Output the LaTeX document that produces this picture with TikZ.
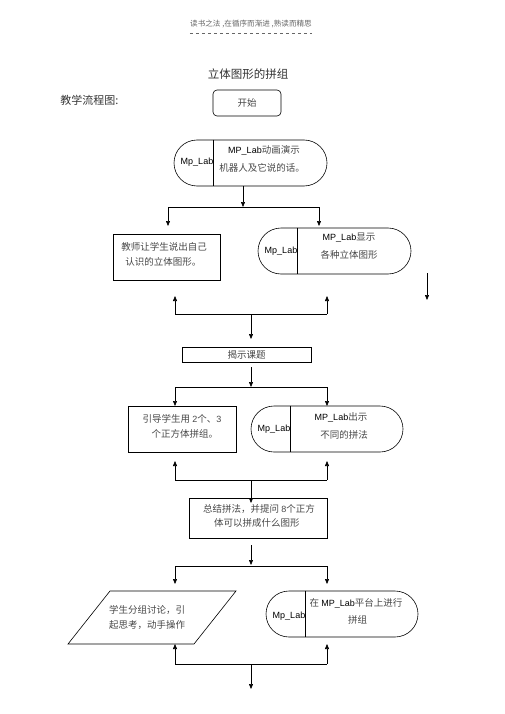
\documentclass[tikz,border=0pt]{standalone}
\usepackage{fontspec}
\setmainfont{Liberation Serif}
\newfontfamily\cjk{Noto Sans CJK SC}
\newfontfamily\arial{Liberation Sans}
\usetikzlibrary{arrows.meta,shapes.misc}
\begin{document}
\begin{tikzpicture}[x=1pt,y=-1pt,line width=0.6pt,
  arr/.style={-{Triangle[length=5pt,width=4pt]}},
  plainbox/.style={draw,rectangle,inner sep=0pt},
  termbox/.style={draw,rounded rectangle,inner sep=0pt,minimum height=46pt},
  zh/.style={text=black!72,font=\cjk\fontsize{9.5}{11}\selectfont,inner sep=0pt},
  mp/.style={text=black,font=\arial\fontsize{9}{11}\selectfont,inner sep=0pt},
  mix/.style={inner sep=0pt,font=\fontsize{9.5}{11}\selectfont}]
\useasboundingbox (0,0) rectangle (505,714);
\newcommand{\zhx}[1]{{\cjk\color{black!72}#1}}
\newcommand{\mpx}[1]{{\arial\fontsize{9}{11}\selectfont #1}}

% header
\node[inner sep=0pt,text=black!60,font=\cjk\fontsize{7.6}{9}\selectfont] (hdr) at (251,24) {读书之法 ,在循序而渐进 ,熟读而精思};
\draw[black!60,dashed,line width=0.4pt] (hdr.south west |- 0,33) coordinate (hl) -- (hdr.south east |- 0,33) coordinate (hr);
\node[inner sep=0pt,text=black!80,font=\cjk\fontsize{11.5}{13}\selectfont] (title) at (248,74) {立体图形的拼组};
\node[inner sep=0pt,anchor=west,text=black!80,font=\cjk\fontsize{11}{13}\selectfont] (lbl) at (60,100) {教学流程图:};

% start
\node[plainbox,rounded corners=4pt,minimum width=68pt,minimum height=26pt] (S) at (247,103) {};
\node[zh] (St) at (247,103) {开始};

% T1
\node[termbox,minimum width=153pt] (T1) at (250.5,163) {};
\draw ([xshift=40pt]T1.west |- T1.north) coordinate (d1a) -- ([xshift=40pt]T1.west |- T1.south) coordinate (d1b);
\node[mp] (T1m) at (197,162) {Mp\_Lab};
\node[mix] (T1a) at (264,150) {\mpx{MP\_Lab}\zhx{动画演示}};
\node[zh] (T1b) at (262,168) {机器人及它说的话。};

% branch 1
\coordinate (b1) at (243,207);
\coordinate (b1l) at (168,207);
\coordinate (b1r) at (319,207);
\draw[arr] (T1.south -| b1) -- (b1);
\draw (b1l) -- (b1r);
\draw[arr] (b1l) -- (168,226) coordinate (a1l);
\draw[arr] (b1r) -- (319,226) coordinate (a1r);

% L1
\node[plainbox,minimum width=107pt,minimum height=46pt] (L1) at (166.5,257) {};
\node[zh,align=left] (L1t) at (164,254) {教师让学生说出自己\\[4pt]\hspace*{4pt}认识的立体图形。};

% T2
\node[termbox,minimum width=153pt] (T2) at (334.5,251) {};
\draw ([xshift=40pt]T2.west |- T2.north) -- ([xshift=40pt]T2.west |- T2.south);
\node[mp] (T2m) at (281,251) {Mp\_Lab};
\node[mix] (T2a) at (349,238) {\mpx{MP\_Lab}\zhx{显示}};
\node[zh] (T2b) at (349,255) {各种立体图形};

% stray arrow
\coordinate (s1) at (427,273);
\draw[arr] (s1) -- (427,300) coordinate (s2);

% merge 1
\coordinate (m1l) at (175,314);
\coordinate (m1r) at (327,314);
\coordinate (m1c) at (251,314);
\draw (m1l) -- (m1r);
\draw[arr] (m1l) -- (175,296);
\draw[arr] (m1r) -- (327,296);

% reveal
\node[plainbox,minimum width=129pt,minimum height=15pt] (R) at (246.5,354.5) {};
\node[zh] (Rt) at (246.5,355) {揭示课题};
\draw[arr] (m1c) -- (m1c |- 0,339) coordinate (m1e);

% branch 2
\coordinate (b2) at (251,387);
\coordinate (b2l) at (175,387);
\coordinate (b2r) at (327,387);
\draw[arr] (251,367) coordinate (b2s) -- (b2);
\draw (b2l) -- (b2r);
\draw[arr] (b2l) -- (175,406);
\draw[arr] (b2r) -- (327,406);

% L3
\node[plainbox,minimum width=108pt,minimum height=46pt] (L3) at (182,429) {};
\node[zh,align=left] (L3t) at (182,426) {引导学生用 \mpx{2}个、\mpx{3}\\[4pt]\hspace*{9pt}个正方体拼组。};

% T3
\node[termbox,minimum width=152pt] (T3) at (327,429) {};
\draw ([xshift=40pt]T3.west |- T3.north) -- ([xshift=40pt]T3.west |- T3.south);
\node[mp] (T3m) at (274,429) {Mp\_Lab};
\node[mix] (T3a) at (341,417) {\mpx{MP\_Lab}\zhx{出示}};
\node[zh] (T3b) at (344,435) {不同的拼法};

% merge 2
\coordinate (m2l) at (175,480);
\coordinate (m2r) at (327,480);
\coordinate (m2c) at (251,480);
\draw (m2l) -- (m2r);
\draw[arr] (m2l) -- (175,461);
\draw[arr] (m2r) -- (327,461);

% summary
\node[plainbox,minimum width=138pt,minimum height=40pt] (Q) at (258,518) {};
\node[zh,align=left] (Qt) at (259,516) {总结拼法，并提问 \mpx{8}个正方\\[3pt]\hspace*{11pt}体可以拼成什么图形};
\draw[arr] (m2c) -- (251,503) coordinate (m2e);

% branch 3
\coordinate (b3) at (251,565);
\coordinate (b3l) at (175,566);
\coordinate (b3r) at (327,566);
\draw[arr] (251,545) coordinate (b3s) -- (b3);
\draw (b3l) -- (b3r);
\draw[arr] (b3l) -- (175,584);
\draw[arr] (b3r) -- (327,584);

% parallelogram
\coordinate (p1) at (110,591);
\coordinate (p2) at (236,591);
\coordinate (p3) at (194,644);
\coordinate (p4) at (68,644);
\draw (p1) -- (p2) -- (p3) -- (p4) -- cycle;
\node[zh,align=left] (Pt) at (147,617) {学生分组讨论，引\\[4pt]起思考，动手操作};

% T4
\node[termbox,minimum width=152pt] (T4) at (342,614) {};
\draw ([xshift=40pt]T4.west |- T4.north) -- ([xshift=40pt]T4.west |- T4.south);
\node[mp] (T4m) at (289,616) {Mp\_Lab};
\node[mix] (T4a) at (356,603) {\zhx{在 }\mpx{MP\_Lab}\zhx{平台上进行}};
\node[zh] (T4b) at (357.5,620) {拼组};

% merge 3
\coordinate (m3l) at (175,664);
\coordinate (m3r) at (327,664);
\coordinate (m3c) at (251,664);
\draw (m3l) -- (m3r);
\draw[arr] (m3l) -- (175,644);
\draw[arr] (m3r) -- (327,644);
\draw[arr] (m3c) -- (251,689) coordinate (m3e);
\end{tikzpicture}
\end{document}
